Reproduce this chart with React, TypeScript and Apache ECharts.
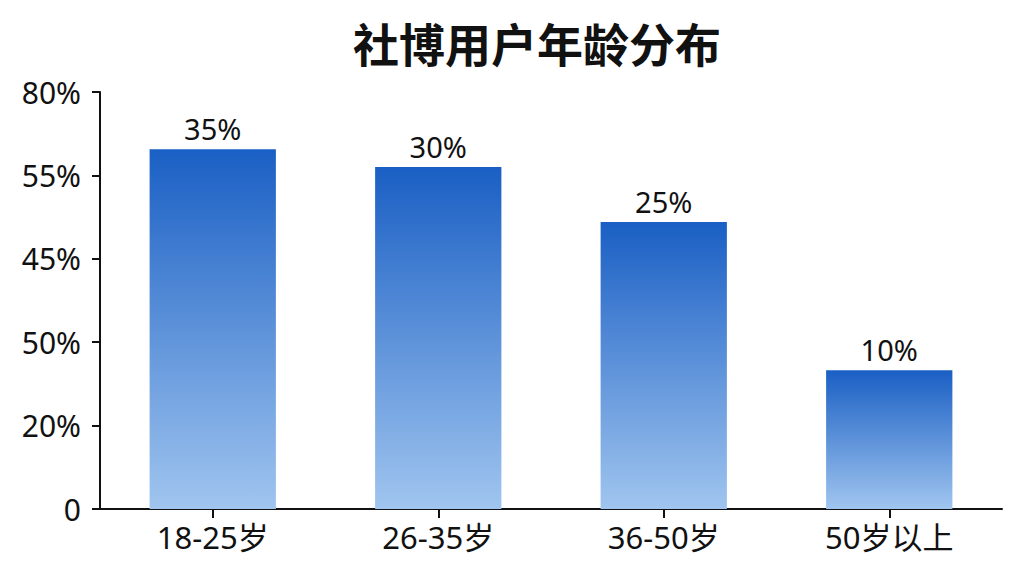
import React, { useEffect, useRef } from "react";
import * as echarts from "echarts";

const categories = ["18-25岁", "26-35岁", "36-50岁", "50岁以上"];
// bar heights as drawn on the axis scale (0..100 grid units)
const barValues = [86.3, 82, 68.8, 33.3];
// labels printed above the bars
const barLabels = ["35%", "30%", "25%", "10%"];
// y-axis tick labels, bottom to top
const yTickLabels = ["0", "20%", "50%", "45%", "55%", "80%"];
const yMin = 0;
const yMax = 100;
const yInterval = 20;

const FONT = "'Noto Sans', 'Noto Sans CJK SC', sans-serif";

export default function App() {
  const ref = useRef<HTMLDivElement>(null);
  useEffect(() => {
    if (!ref.current) return;
    const chart = echarts.init(ref.current, null, { renderer: "svg" });
    chart.setOption({
      animation: false,
      backgroundColor: "#ffffff",
      title: {
        text: "社博用户年龄分布",
        left: 348,
        top: 16,
        textStyle: {
          fontFamily: FONT,
          fontSize: 46,
          fontWeight: "bold",
          color: "#111111",
        },
      },
      grid: { left: 100, right: 22, top: 92, bottom: 67, containLabel: false },
      xAxis: {
        type: "category",
        data: categories,
        axisLine: { lineStyle: { color: "#111111", width: 2 } },
        axisTick: { show: true, alignWithLabel: true, length: 9, lineStyle: { color: "#111111", width: 2 } },
        axisLabel: {
          fontFamily: FONT,
          fontSize: 31,
          color: "#111111",
          margin: 12,
        },
      },
      yAxis: {
        type: "value",
        min: yMin,
        max: yMax,
        interval: yInterval,
        splitLine: { show: false },
        axisLine: { show: true, lineStyle: { color: "#111111", width: 2 } },
        axisTick: { show: true, length: 8, lineStyle: { color: "#111111", width: 2 } },
        axisLabel: {
          fontFamily: FONT,
          fontSize: 30,
          color: "#111111",
          margin: 19,
          formatter: (v: number) => {
            const idx = Math.round((v - yMin) / yInterval);
            return yTickLabels[idx] ?? "";
          },
        },
      },
      series: [
        {
          type: "bar",
          data: barValues,
          barWidth: "56%",
          itemStyle: {
            color: new echarts.graphic.LinearGradient(0, 0, 0, 1, [
              { offset: 0, color: "#1a5fc4" },
              { offset: 1, color: "#a0c5ef" },
            ]),
          },
          label: {
            show: true,
            position: "top",
            distance: 6,
            fontFamily: FONT,
            fontSize: 29,
            color: "#111111",
            formatter: (p: any) => barLabels[p.dataIndex],
          },
        },
      ],
    });
    return () => chart.dispose();
  }, []);
  return (
    <div
      ref={ref}
      style={{ position: "fixed", left: 0, top: 0, width: 1024, height: 576 }}
    />
  );
}
